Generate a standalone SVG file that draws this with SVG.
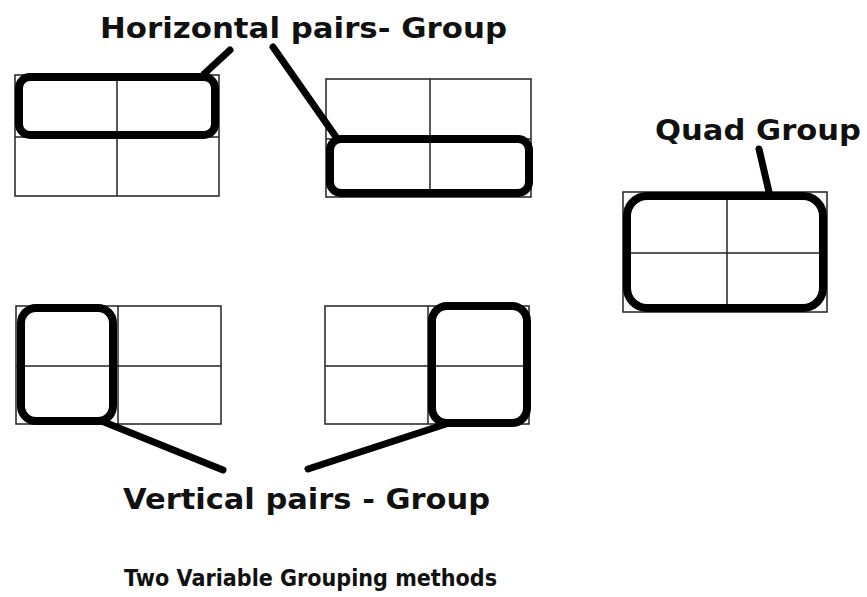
<svg xmlns="http://www.w3.org/2000/svg" width="867" height="597" viewBox="0 0 867 597">
<style>
.grid{fill:none;stroke:#222;stroke-width:1.5}
.grp{fill:none;stroke:#000;stroke-width:8}
.lead{stroke:#000;stroke-width:7;stroke-linecap:round;fill:none}
.lbl{font-family:"DejaVu Sans","Verdana",sans-serif;font-weight:bold;fill:#111}
</style>
<rect width="867" height="597" fill="#fff"/>
<g id="kmap-h1">
<rect class="grid" x="15" y="75" width="204" height="121"/>
<line class="grid" x1="117" y1="75" x2="117" y2="196"/>
<line class="grid" x1="15" y1="137" x2="219" y2="137"/>
<rect class="grp" x="19" y="77" width="196" height="58" rx="11"/>
</g>
<g id="kmap-h2">
<rect class="grid" x="326" y="79" width="205" height="118"/>
<line class="grid" x1="430" y1="79" x2="430" y2="197"/>
<line class="grid" x1="326" y1="139" x2="531" y2="139"/>
<rect class="grp" x="330" y="139" width="199" height="54" rx="11"/>
</g>
<g id="kmap-quad">
<rect class="grid" x="623" y="192" width="204" height="120"/>
<line class="grid" x1="727" y1="192" x2="727" y2="312"/>
<line class="grid" x1="623" y1="253" x2="827" y2="253"/>
<rect class="grp" x="627" y="196" width="196" height="112" rx="20"/>
</g>
<g id="kmap-v1">
<rect class="grid" x="16" y="306" width="205" height="118"/>
<line class="grid" x1="118" y1="306" x2="118" y2="424"/>
<line class="grid" x1="16" y1="366" x2="221" y2="366"/>
<rect class="grp" x="21" y="308" width="92" height="113" rx="15"/>
</g>
<g id="kmap-v2">
<rect class="grid" x="325" y="306" width="204" height="118"/>
<line class="grid" x1="428" y1="306" x2="428" y2="424"/>
<line class="grid" x1="325" y1="366" x2="529" y2="366"/>
<rect class="grp" x="432" y="306" width="95" height="117" rx="15"/>
</g>
<g id="connectors">
<line class="lead" x1="204" y1="74" x2="230" y2="50"/>
<line class="lead" x1="273" y1="47" x2="336" y2="137"/>
<line class="lead" x1="759" y1="149" x2="769" y2="192"/>
<line class="lead" x1="104" y1="422" x2="223" y2="470"/>
<line class="lead" x1="446" y1="424" x2="308" y2="469"/>
</g>
<g id="labels">
<text class="lbl" x="100" y="38" font-size="28" textLength="407" lengthAdjust="spacingAndGlyphs">Horizontal pairs- Group</text>
<text class="lbl" x="655" y="140" font-size="28" textLength="206" lengthAdjust="spacingAndGlyphs">Quad Group</text>
<text class="lbl" x="123" y="509" font-size="28" textLength="367" lengthAdjust="spacingAndGlyphs">Vertical pairs - Group</text>
<text class="lbl" x="124" y="586" font-size="23" textLength="373" lengthAdjust="spacingAndGlyphs">Two Variable Grouping methods</text>
</g>
</svg>
